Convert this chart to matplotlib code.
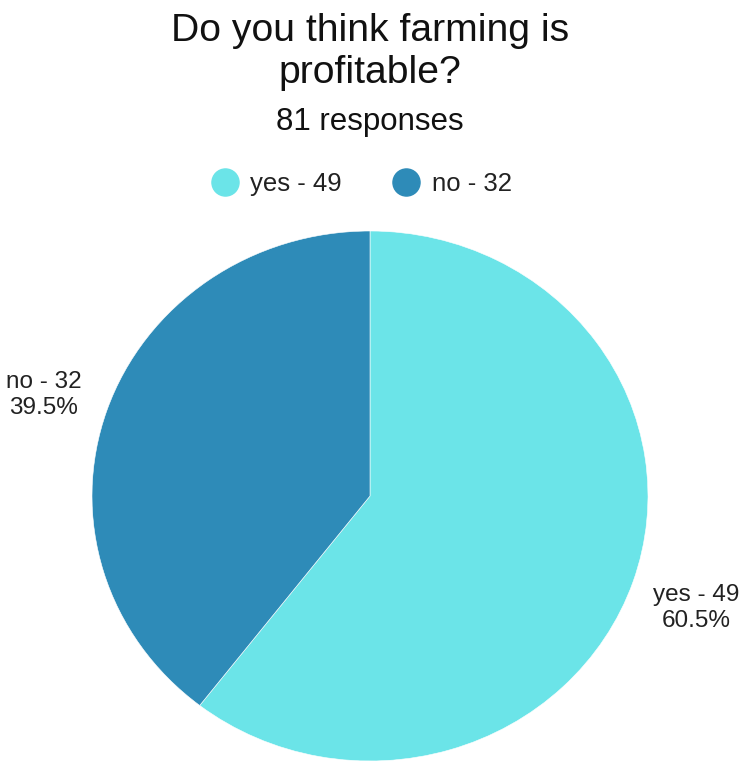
import matplotlib
matplotlib.use("Agg")
import matplotlib.pyplot as plt
from matplotlib.lines import Line2D

plt.rcParams['font.family'] = ['Liberation Sans', 'DejaVu Sans']

# ── data ─────────────────────────────────────────────────────────────────────
answers = ["yes", "no"]
counts  = [49, 32]
colors  = ["#6be4e8", "#2e8bb8"]

title    = "Do you think farming is\nprofitable?"
subtitle = f"{sum(counts)} responses"

W, H = 744, 763
fig = plt.figure(figsize=(W / 100, H / 100), dpi=100)

# pie box: centre (370, 496) px, radius 278 px across, 265 px down
cx, cy, rx, ry = 370, 496, 278, 265
ax = fig.add_axes([(cx - rx) / W, (H - cy - ry) / H, 2 * rx / W, 2 * ry / H])

total = sum(counts)
labels = [f"{a} - {c}\n{c / total * 100:.1f}%" for a, c in zip(answers, counts)]
wedges, texts = ax.pie(counts, colors=colors, startangle=90, counterclock=False,
                       labels=labels, labeldistance=1.24,
                       wedgeprops=dict(edgecolor="white", linewidth=0.4),
                       textprops=dict(fontsize=17.5, color="#222222"))
for t in texts:
    t.set_ha("center")
    t.set_va("center")
    t.set_multialignment("center")
    t.set_linespacing(1.25)
    x, y = t.get_position()
    t.set_position((x, y - 0.02))
ax.set_aspect("auto")
ax.set_xlim(-1, 1)
ax.set_ylim(-1, 1)

# ── titles ───────────────────────────────────────────────────────────────────
fig.text(370 / W, 1 - 83 / H, title, ha="center", va="baseline",
         fontsize=28.2, color="#111111", linespacing=1.2)
fig.text(370 / W, 1 - 130 / H, subtitle, ha="center", va="baseline",
         fontsize=22.5, color="#111111")

# ── legend ───────────────────────────────────────────────────────────────────
handles = [Line2D([], [], marker="o", linestyle="", markersize=19.5,
                  markerfacecolor=c, markeredgecolor=c) for c in colors]
leg_labels = [f"{a} - {c}" for a, c in zip(answers, counts)]
fig.legend(handles, leg_labels, loc="center", bbox_to_anchor=(362 / W, 1 - 184 / H),
           ncol=2, frameon=False, fontsize=18.5, handlelength=1.0,
           handletextpad=0.5, columnspacing=2.0, labelcolor="#222222")

fig.savefig("out.png", dpi=100)
